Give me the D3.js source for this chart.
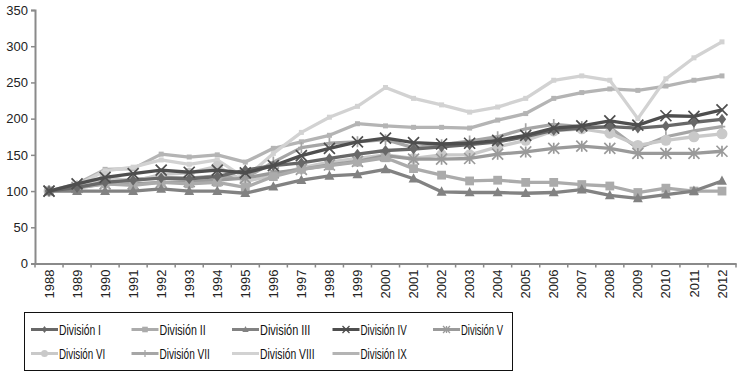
<!doctype html>
<html>
  <head>
    <script src="https://cdnjs.cloudflare.com/ajax/libs/d3/7.8.5/d3.min.js"></script>
    <style>
      body { margin: 0; background: #fff; }
      text { font-family: "Liberation Sans", Arial, sans-serif; }
    </style>
  </head>
  <body>
    <svg width="744" height="377"></svg>
    <script>
        var years = ["1988","1989","1990","1991","1992","1993","1994","1995","1996","1997","1998","1999","2000",
                     "2001","2002","2003","2004","2005","2006","2007","2008","2009","2010","2011","2012"];
        var yTicks = [0, 50, 100, 150, 200, 250, 300, 350];
        var names = ["División I","División II","División III","División IV","División V",
                     "División VI","División VII","División VIII","División IX"];

        var div1 = [100,105,112,115,118,117,120,129,135,139,145,151,156,158,161,164,168,175,184,187,189,187,190,195,199];
        var div2 = [100,104,110,108,112,110,112,105,120,130,135,140,146,131,122,114,115,112,112,109,107,98,104,100,100];
        var div3 = [100,100,100,100,103,100,100,97,106,115,121,123,130,117,99,98,98,97,98,102,94,90,95,100,114];
        var div4 = [100,110,119,124,129,126,129,125,135,149,159,168,173,167,165,166,170,177,187,190,197,191,204,203,212];
        var div5 = [100,105,110,110,112,113,115,118,125,130,136,141,149,144,144,145,151,154,159,162,159,152,152,152,155];
        var div6 = [100,103,120,113,123,125,134,113,122,132,140,145,150,145,150,150,161,170,183,186,180,163,170,175,179];
        var div7 = [100,107,113,116,119,118,121,118,140,160,166,168,171,160,164,169,175,186,192,189,188,159,175,183,189];
        var div8 = [100,108,128,133,143,137,143,118,152,181,202,217,243,228,219,209,216,228,253,259,253,200,255,284,306];
        var div9 = [100,110,130,131,151,147,150,140,159,168,177,193,190,188,188,187,198,207,228,236,241,239,245,253,259];

        var series = [div1, div2, div3, div4, div5, div6, div7, div8, div9];
        var colours = ["#686868","#ababab","#828282","#4e4e4e","#9a9a9a","#c9c9c9","#a6a6a6","#d2d2d2","#b4b4b4"];

        // custom marker shapes
        var sym = {
          diamond: function(p, s) { p.moveTo(0,-s); p.lineTo(s*0.75,0); p.lineTo(0,s); p.lineTo(-s*0.75,0); p.closePath(); },
          square: function(p, s) { p.rect(-s*0.8,-s*0.8,s*1.6,s*1.6); },
          triangle: function(p, s) { p.moveTo(0,-s); p.lineTo(s*0.9,s*0.7); p.lineTo(-s*0.9,s*0.7); p.closePath(); },
          cross: function(p, s) { p.moveTo(-s,-s); p.lineTo(s,s); p.moveTo(s,-s); p.lineTo(-s,s); },
          star: function(p, s) { p.moveTo(-s,-s); p.lineTo(s,s); p.moveTo(s,-s); p.lineTo(-s,s); p.moveTo(0,-s); p.lineTo(0,s); },
          circle: function(p, s) { p.moveTo(s,0); p.arc(0,0,s,0,2*Math.PI); },
          plus: function(p, s) { p.moveTo(0,-s); p.lineTo(0,s); p.moveTo(-s*0.6,0); p.lineTo(s*0.6,0); },
          small: function(p, s) { p.rect(-2.5,-2.5,5,5); }
        };
        var markers = ["diamond","square","triangle","cross","star","circle","plus","small","small"];
        var filled = [true,true,true,false,false,true,false,true,true];

        var svg = d3.select("svg");
        svg.append("rect").attr("width",744).attr("height",377).attr("fill","#fff");

        var x = d3.scaleBand().domain(years).range([35, 736]);
        var y = d3.scaleLinear().domain([0, 350]).range([263.5, 10]);

        var yAxis = svg.append("g").attr("transform","translate(35,0)")
            .call(d3.axisLeft(y).tickValues(yTicks).tickSize(4).tickPadding(3));
        yAxis.selectAll("text").attr("font-size", 13).attr("fill","#222");

        var xAxis = svg.append("g").attr("transform","translate(0,263.5)")
            .call(d3.axisBottom(x).tickSize(0).tickPadding(0));
        xAxis.selectAll("text")
            .attr("font-size", 13).attr("fill","#222")
            .attr("transform","rotate(-90)")
            .attr("x", -6).attr("y", 0).attr("dy","0.35em")
            .style("text-anchor","end");
        // ticks at band boundaries
        xAxis.selectAll(".bnd").data(years.concat(["end"])).enter().append("line")
            .attr("x1",(d,i) => 35 + i*x.step()).attr("x2",(d,i) => 35 + i*x.step())
            .attr("y1",0).attr("y2",4).attr("stroke","#888").attr("stroke-width",1.5);
        svg.selectAll(".domain").attr("stroke","#8a8a8a").attr("stroke-width",2);
        svg.selectAll(".tick line").attr("stroke","#8a8a8a").attr("stroke-width",1.5);

        var line = d3.line().x((d,i) => x(years[i]) + x.bandwidth()/2).y(d => y(d));

        function markerPath(k, s) {
          var p = d3.path(); sym[markers[k]](p, s); return p.toString();
        }

        var order = [8,7,6,5,4,1,2,0,3];
        order.forEach(function(k) {
          var g = svg.append("g");
          g.append("path").datum(series[k]).attr("d", line)
            .attr("fill","none").attr("stroke", colours[k]).attr("stroke-width", 3.3)
            .attr("stroke-linejoin","round");
          g.selectAll("path.m").data(series[k]).enter().append("path")
            .attr("class","m")
            .attr("transform",(d,i) => "translate(" + (x(years[i]) + x.bandwidth()/2) + "," + y(d) + ")")
            .attr("d", markerPath(k, 5.5))
            .attr("fill", filled[k] ? colours[k] : "none")
            .attr("stroke", colours[k]).attr("stroke-width", filled[k] ? 0 : 1.7);
        });

        // legend
        var lg = svg.append("g");
        lg.append("rect").attr("x",24.5).attr("y",312.5).attr("width",488).attr("height",58)
          .attr("fill","none").attr("stroke","#111").attr("stroke-width",1);
        names.forEach(function(n, k) {
          var col = k % 5, row = Math.floor(k / 5);
          var lx = 31 + col * 100.5, ly = 329.5 + row * 24;
          lg.append("line").attr("x1",lx).attr("x2",lx+27).attr("y1",ly).attr("y2",ly)
            .attr("stroke",colours[k]).attr("stroke-width",3);
          if (k < 7) {
            lg.append("path").attr("transform","translate(" + (lx+13.5) + "," + ly + ")")
              .attr("d", markerPath(k, 3.5))
              .attr("fill", filled[k] ? colours[k] : "none")
              .attr("stroke", colours[k]).attr("stroke-width", filled[k] ? 0 : 1.3);
          }
          lg.append("text").attr("x", lx + 28).attr("y", ly).attr("dy","0.35em")
            .attr("font-size", 15.5).attr("fill","#111")
            .attr("textLength", n.length * 4.2).attr("lengthAdjust","spacingAndGlyphs")
            .text(n);
        });
    </script>
  </body>
</html>
